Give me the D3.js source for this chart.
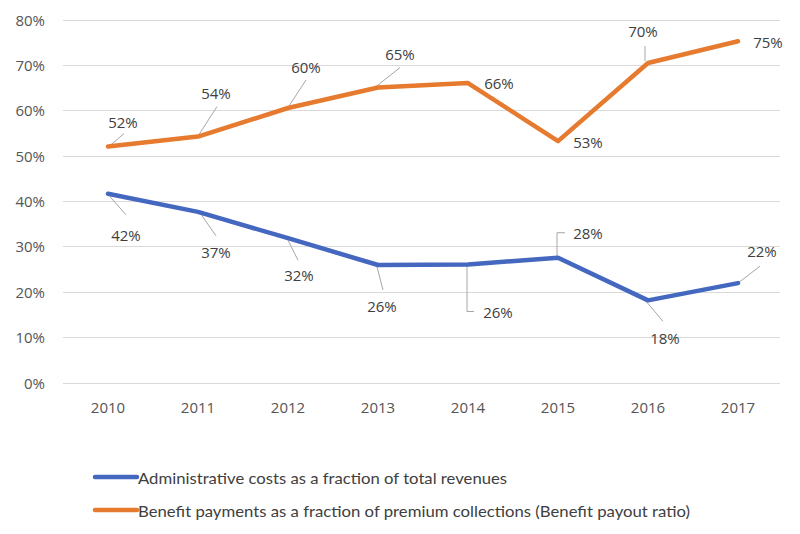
<!DOCTYPE html>
<html>
<head>
<meta charset="utf-8">
<script src="https://cdn.jsdelivr.net/npm/d3@7"></script>
<style>
  body { margin: 0; background: #fff; }
  svg { display: block; }
</style>
</head>
<body>
<svg id="chart" width="800" height="534"></svg>
<script>
// ---- data ----
const years = ["2010", "2011", "2012", "2013", "2014", "2015", "2016", "2017"];
const adminCosts = [41.6, 37.6, 31.8, 25.9, 26.0, 27.5, 18.1, 21.9];
const adminLabels = ["42%", "37%", "32%", "26%", "26%", "28%", "18%", "22%"];
const benefitPayout = [52.0, 54.2, 60.5, 65.0, 66.0, 53.2, 70.4, 75.2];
const benefitLabels = ["52%", "54%", "60%", "65%", "66%", "53%", "70%", "75%"];
const yTicks = [0, 10, 20, 30, 40, 50, 60, 70, 80];
const seriesNames = [
  "Administrative costs as a fraction of total revenues",
  "Benefit payments as a fraction of premium collections (Benefit payout ratio)"
];

// ---- label placement (pixel offsets from each point) ----
const benefitLabelPos = [
  {dx: 15, dy: -25, leader: [[2, -1], [16, -13]]},
  {dx: 18, dy: -44, leader: [[1, -2], [19, -30]]},
  {dx: 18, dy: -41, leader: [[1, -2], [18, -28]]},
  {dx: 22, dy: -34, leader: [[-2, -1], [22, -20]]},
  {dx: 31, dy: 0, leader: null},
  {dx: 30, dy: 1, leader: null},
  {dx: -5, dy: -32, leader: [[-3, -2], [-3, -17]]},
  {dx: 30, dy: 1, leader: null}
];
const adminLabelPos = [
  {dx: 18, dy: 41, leader: [[2, 3], [18, 21]]},
  {dx: 18, dy: 40, leader: [[2, 1], [18, 24]]},
  {dx: 11, dy: 37, leader: [[0, 2], [10, 22]]},
  {dx: 4, dy: 41, leader: [[-1, 2], [5, 25]]},
  {dx: 30, dy: 47, leader: [[-1, 1], [-1, 47], [6, 47]]},
  {dx: 30, dy: -25, leader: [[-1, -1], [-1, -25], [7, -25]]},
  {dx: 17, dy: 38, leader: [[-1, 2], [15, 21]]},
  {dx: 24, dy: -32, leader: [[0, 0], [22, -17]]}
];

const blue = "#4467BF";
const orange = "#E67A2F";
const fontMain = "'Open Sans', 'Noto Sans', sans-serif";

const svg = d3.select("#chart");
const plotLeft = 63, plotRight = 783, plotTop = 19.5, plotBottom = 382.5;

const x = d3.scaleBand().domain(years).range([plotLeft, plotRight]);
const y = d3.scaleLinear().domain([0, 80]).range([plotBottom, plotTop]);
const cx = d => x(d) + x.bandwidth() / 2;

// gridlines
svg.append("g").selectAll("line").data(yTicks).join("line")
  .attr("x1", plotLeft).attr("x2", 780)
  .attr("y1", d => Math.round(y(d)) + 0.5).attr("y2", d => Math.round(y(d)) + 0.5)
  .attr("stroke", "#d9d9d9").attr("stroke-width", 1);

// y axis labels
svg.append("g").selectAll("text").data(yTicks).join("text")
  .attr("x", 45).attr("y", d => y(d))
  .attr("text-anchor", "end").attr("dominant-baseline", "central")
  .attr("font-family", fontMain).attr("font-size", 15)
  .attr("fill", "#555555")
  .text(d => d + "%");

// x axis labels
svg.append("g").selectAll("text").data(years).join("text")
  .attr("x", d => cx(d)).attr("y", 407)
  .attr("text-anchor", "middle").attr("dominant-baseline", "central")
  .attr("font-family", fontMain).attr("font-size", 15)
  .attr("fill", "#555555")
  .text(d => d);

const line = d3.line().x(d => cx(d.year)).y(d => y(d.v));

function drawSeries(values, labels, pos, color) {
  const pts = years.map((yr, i) => ({year: yr, v: values[i], label: labels[i], pos: pos[i]}));
  const lg = svg.append("g");
  pts.forEach(p => {
    if (!p.pos.leader) return;
    const px = cx(p.year), py = y(p.v);
    lg.append("polyline")
      .attr("points", p.pos.leader.map(q => [px + q[0], py + q[1]].join(",")).join(" "))
      .attr("fill", "none").attr("stroke", "#a6a6a6").attr("stroke-width", 1);
  });
  svg.append("path").datum(pts)
    .attr("d", line)
    .attr("fill", "none").attr("stroke", color)
    .attr("stroke-width", 4.5).attr("stroke-linejoin", "round").attr("stroke-linecap", "round");
  svg.append("g").selectAll("text").data(pts).join("text")
    .attr("x", p => cx(p.year) + p.pos.dx)
    .attr("y", p => y(p.v) + p.pos.dy)
    .attr("text-anchor", "middle").attr("dominant-baseline", "central")
    .attr("font-family", fontMain).attr("font-size", 15)
    .attr("fill", "#404040")
    .text(p => p.label);
}

drawSeries(benefitPayout, benefitLabels, benefitLabelPos, orange);
drawSeries(adminCosts, adminLabels, adminLabelPos, blue);

// legend
const legend = [
  {name: seriesNames[0], color: blue, y: 477, len: 369},
  {name: seriesNames[1], color: orange, y: 510, len: 552}
];
const lgd = svg.append("g");
legend.forEach(l => {
  lgd.append("line").attr("x1", 95).attr("x2", 137).attr("y1", l.y).attr("y2", l.y)
    .attr("stroke", l.color).attr("stroke-width", 4.5).attr("stroke-linecap", "round");
  lgd.append("text").attr("x", 138).attr("y", l.y)
    .attr("dominant-baseline", "central")
    .attr("font-family", "Lato, sans-serif").attr("font-size", 16)
    .attr("fill", "#404040")
    .attr("textLength", l.len).attr("lengthAdjust", "spacingAndGlyphs")
    .text(l.name);
});
</script>
</body>
</html>
